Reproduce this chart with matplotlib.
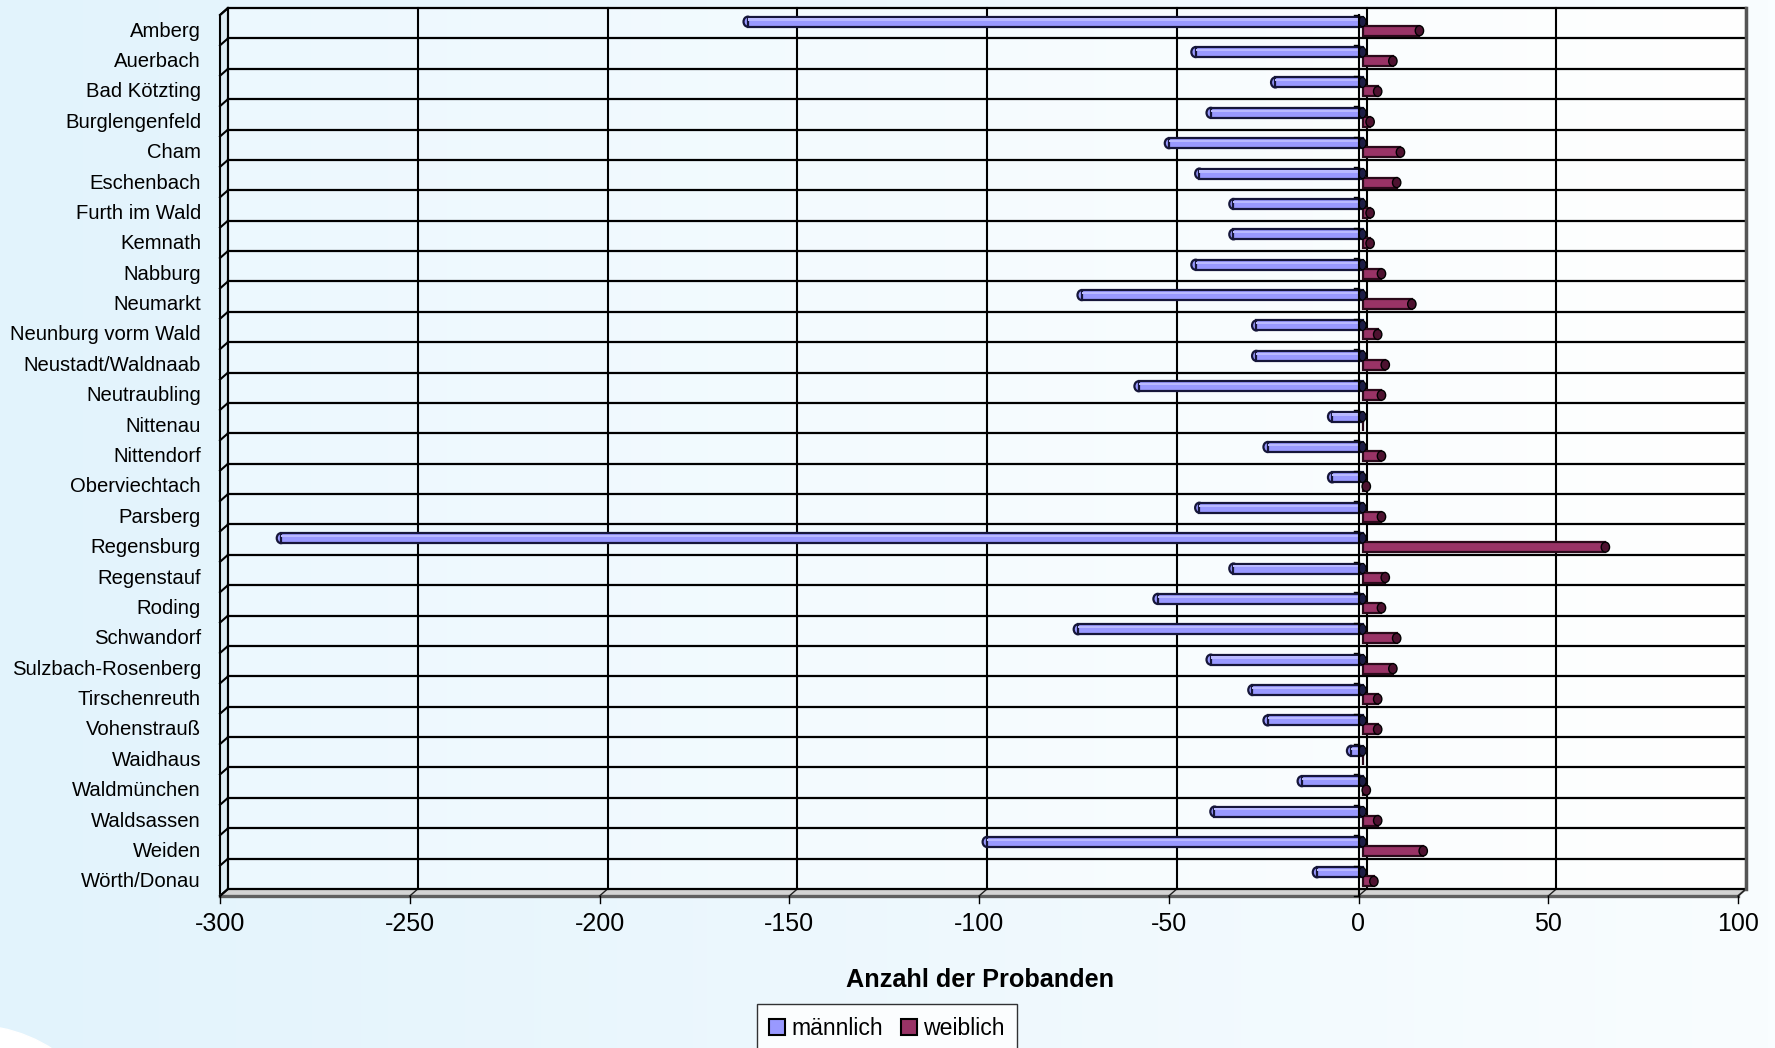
import numpy as np
import matplotlib.pyplot as plt
from matplotlib.patches import Polygon, Ellipse, Rectangle

plt.rcParams['font.family'] = ['Liberation Sans', 'DejaVu Sans']

# Daten
orte = ['Amberg', 'Auerbach', 'Bad Kötzting', 'Burglengenfeld', 'Cham', 'Eschenbach',
        'Furth im Wald', 'Kemnath', 'Nabburg', 'Neumarkt', 'Neunburg vorm Wald',
        'Neustadt/Waldnaab', 'Neutraubling', 'Nittenau', 'Nittendorf', 'Oberviechtach',
        'Parsberg', 'Regensburg', 'Regenstauf', 'Roding', 'Schwandorf',
        'Sulzbach-Rosenberg', 'Tirschenreuth', 'Vohenstrauß', 'Waidhaus',
        'Waldmünchen', 'Waldsassen', 'Weiden', 'Wörth/Donau']
maennlich = [-162, -44, -23, -40, -51, -43, -34, -34, -44, -74, -28, -28, -59, -8, -25,
             -8, -43, -285, -34, -54, -75, -40, -29, -25, -3, -16, -39, -99, -12]
weiblich = [15, 8, 4, 2, 10, 9, 2, 2, 5, 13, 4, 6, 5, 0, 5,
            1, 5, 64, 6, 5, 9, 8, 4, 4, 0, 1, 4, 16, 3]
x_ticks = [-300, -250, -200, -150, -100, -50, 0, 50, 100]

W, H = 1775, 1048
fig = plt.figure(figsize=(W / 100, H / 100), dpi=100)

# Hintergrund mit Verlauf
bg = fig.add_axes([0, 0, 1, 1], zorder=-10)
t = np.linspace(0, 1, 256)
c0 = np.array([226, 243, 252]) / 255
c1 = np.array([249, 253, 255]) / 255
bg.imshow((c0 + (c1 - c0) * t[:, None])[None, :, :], aspect='auto', extent=[0, 1, 0, 1])
bg.add_patch(Ellipse((-29 / W, 1 - 1175 / H), 300 / W, 300 / H, color='white'))
bg.set_xlim(0, 1)
bg.set_ylim(0, 1)
bg.axis('off')

# Rueckwand
x0, x1, y0, y1 = 228, 1746, 8, 889
ax = fig.add_axes([x0 / W, 1 - y1 / H, (x1 - x0) / W, (y1 - y0) / H])
n = len(orte)
ax.set_xlim(-300, 100)
ax.set_ylim(n - 0.5, -0.5)
ax.axis('off')

pxu = (x1 - x0) / 400.0
pxr = (y1 - y0) / n
dx = -8 / pxu
dy = 7 / pxr

w0 = np.array([236, 248, 254]) / 255
wall = (w0 + (1 - w0) * t[:, None])[None, :, :]
ax.imshow(wall, aspect='auto', extent=[-300, 100, n - 0.5, -0.5], zorder=0)

# Seitenwand und Boden
ax.add_patch(Polygon([(-300, -0.5), (-300, n - 0.5), (-300 + dx, n - 0.5 + dy), (-300 + dx, -0.5 + dy)],
                     closed=True, facecolor='#dcebf3', edgecolor='black', lw=1.5, clip_on=False, zorder=1))
ax.add_patch(Polygon([(-300, n - 0.5), (100, n - 0.5), (100 + dx, n - 0.5 + dy), (-300 + dx, n - 0.5 + dy)],
                     closed=True, facecolor='#d4d4d4', edgecolor='#6a6a6a', lw=1.4, clip_on=False, zorder=1))
ax.plot([-300 + dx, 100 + dx], [n - 0.5 + dy, n - 0.5 + dy], color='#606060', lw=2.4, clip_on=False, zorder=2)

for v in x_ticks:
    ax.plot([v, v], [-0.5, n - 0.5], color='black', lw=1.5, zorder=2, clip_on=False)
    ax.plot([v, v + dx], [n - 0.5, n - 0.5 + dy], color='#222222', lw=1.0, zorder=2, clip_on=False)
    ax.plot([v + dx, v + dx], [n - 0.5 + dy, n - 0.5 + dy + 7 / pxr], color='black', lw=1.0, clip_on=False)
    ax.text(v + dx, n - 0.5 + dy + 28 / pxr, str(v), ha='center', va='center', fontsize=18)

for k in range(n + 1):
    ax.plot([-300, 100], [k - 0.5, k - 0.5], color='black', lw=1.6, zorder=2, clip_on=False)
    ax.plot([-300, -300 + dx], [k - 0.5, k - 0.5 + dy], color='black', lw=1.5, zorder=2, clip_on=False)
    ax.plot([dx - 5 / pxu, dx], [k - 0.5 + dy] * 2, color='black', lw=1.0, zorder=8, clip_on=False)

ax.plot([100, 100], [-0.5, n - 0.5], color='#555555', lw=2.5, zorder=2, clip_on=False)

for i, name in enumerate(orte):
    ax.text(-300 + dx - 19 / pxu, i + dy + 1 / pxr, name, ha='right', va='center', fontsize=14.6)

# Balken
zb = -4 / pxu
ym = np.arange(n) - 1.5 / pxr
yw = np.arange(n) + 7.5 / pxr
bh = 10 / pxr
ax.barh(ym, maennlich, left=zb, height=bh, color='#9999ff', edgecolor='#16163a', lw=1.6, zorder=5)
ax.barh(ym - 0.07, maennlich, left=zb, height=0.07, color='#b9b9ff', lw=0, zorder=6)
ax.barh(yw, weiblich, left=zb, height=bh, color='#993366', edgecolor='#2a0a1a', lw=1.6, zorder=5)

for i in range(n):
    ax.add_patch(Ellipse((zb + maennlich[i], ym[i]), 2.2, bh, facecolor='#9999ff',
                         edgecolor='#16163a', lw=1.6, zorder=4))
    ax.add_patch(Ellipse((zb, ym[i]), 1.8, bh, facecolor='#1d1d45', edgecolor='black', lw=0.8, zorder=7))
    if weiblich[i] > 0:
        ax.add_patch(Ellipse((zb + weiblich[i], yw[i]), 2.2, bh, facecolor='#4e1230',
                             edgecolor='black', lw=1.0, zorder=7))

# Kategorienachse bei 0
ax.plot([dx, dx], [-0.5 + dy, n - 0.5 + dy], color='black', lw=1.5, zorder=8, clip_on=False)

fig.text(980 / W, 1 - 980 / H, 'Anzahl der Probanden', ha='center', va='center',
         fontsize=18.2, fontweight='bold')

handles = [Rectangle((0, 0), 1, 1, facecolor='#9999ff', edgecolor='black', lw=1.5),
           Rectangle((0, 0), 1, 1, facecolor='#993366', edgecolor='black', lw=1.5)]
leg = fig.legend(handles, ['männlich', 'weiblich'], loc='upper center',
                 bbox_to_anchor=(887 / W, 1 - 1004 / H), ncol=2, fontsize=16.6,
                 frameon=True, fancybox=False, handlelength=0.7, handleheight=0.7,
                 handletextpad=0.25, columnspacing=0.8, borderpad=0.55, borderaxespad=0)
leg.get_frame().set_edgecolor('black')
leg.get_frame().set_facecolor('white')
leg.get_frame().set_linewidth(1.0)

fig.savefig('out.png', dpi=100)
